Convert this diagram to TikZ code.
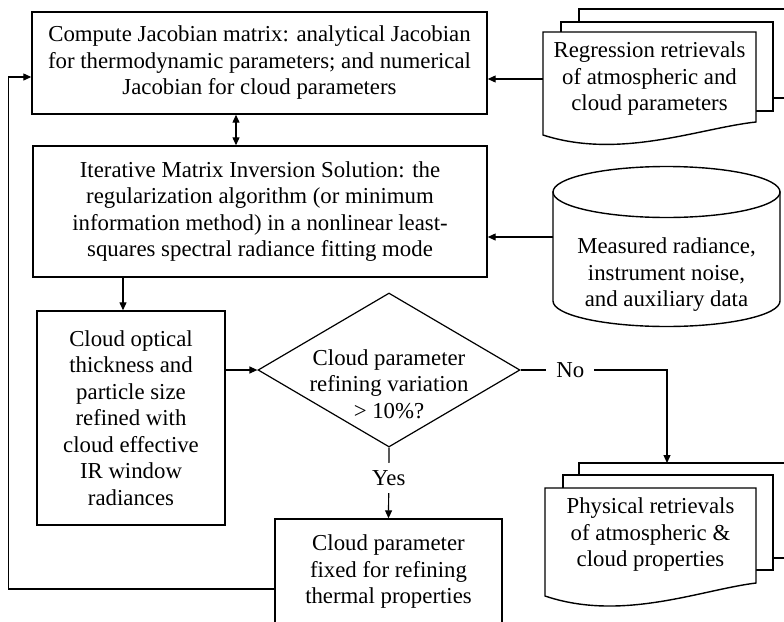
\documentclass[tikz,border=0pt]{standalone}
\usepackage{fontspec}
\setmainfont{Liberation Serif}
\usetikzlibrary{arrows.meta,shapes.geometric}
\begin{document}
\begin{tikzpicture}[x=1pt,y=-1pt,
  every node/.style={font=\fontsize{22.8}{26.5}\selectfont, align=center},
  boxn/.style={draw, line width=1.4pt, inner sep=0pt},
  pg/.style={draw, fill=white, line width=1.4pt},
  arr/.style={-{Triangle[length=8pt,width=7pt]}, line width=1.2pt},
  dbl/.style={{Triangle[length=8pt,width=7pt]}-{Triangle[length=8pt,width=7pt]}, line width=1.2pt},
  lab/.style={fill=white, inner xsep=10pt, inner ysep=7pt}]
\useasboundingbox (0,0) rectangle (784,621);
\clip (0,0) rectangle (784,621);
\fill[white] (0,0) rectangle (784,621);

% boxes
\node[boxn, minimum width=455pt, minimum height=102pt] (top) at (259.5,63)
  {Compute Jacobian matrix: analytical Jacobian\\for thermodynamic parameters; and numerical\\Jacobian for cloud parameters};
\node[boxn, minimum width=454pt, minimum height=131pt] (inv) at (260,211.5)
  {Iterative Matrix Inversion Solution: the\\regularization algorithm (or minimum\\information method) in a nonlinear least-\\squares spectral radiance fitting mode};
\node[boxn, minimum width=188pt, minimum height=214pt] (cot) at (131,418)
  {Cloud optical\\thickness and\\particle size\\refined with\\cloud effective\\IR window\\radiances};
\node[diamond, draw, line width=1.2pt, minimum width=262pt, minimum height=154pt, inner sep=0pt] (dec) at (389,370) {};
\node (dectxt) at (389,384) {Cloud parameter\\refining variation\\> 10\%?};
\node[boxn, minimum width=227pt, minimum height=106pt] (fixed) at (388.5,572)
  {Cloud parameter\\fixed for refining\\thermal properties};

% regression documents
\draw[pg] (579,9) rectangle (820,98);
\draw[pg] (561,22) rectangle (773,111);
\draw[pg] (543,32) -- (756,32) -- (756,122) .. controls (700,128) and (620,160) .. (543,135) -- cycle;
\node[minimum width=213pt, inner sep=0pt] (regr) at (649.5,79)
  {Regression retrievals\\of atmospheric and\\cloud parameters};

% measured data cylinder
\draw[pg] (553,192) -- (553,301) arc[start angle=180, end angle=360, x radius=113.5pt, y radius=25.5pt] -- (780,192) -- cycle;
\draw[pg] (666.5,192) ellipse [x radius=113.5pt, y radius=25.5pt];
\node (meas) at (666.5,275) {Measured radiance,\\instrument noise,\\and auxiliary data};
\coordinate (measW) at (553,237);

% physical documents
\draw[pg] (579,463) rectangle (820,558);
\draw[pg] (563,475) rectangle (773,570);
\draw[pg] (545,488) -- (756,488) -- (756,583) .. controls (700,590) and (622,622) .. (545,596) -- cycle;
\node (phys) at (650.5,535) {Physical retrievals\\of atmospheric \&\\cloud properties};
\coordinate (physTop) at (667,463);
\coordinate (nocorner) at (667,370);

% connectors
\draw[dbl] ([xshift=-23.5pt]top.south) -- ([xshift=-24pt]inv.north);
\draw[arr] (regr.west) -- (regr.west -| top.east);
\draw[arr] (measW) -- (measW -| inv.east);
\draw[arr] ([xshift=-137pt]inv.south) -- ([xshift=-137pt]inv.south |- cot.north);
\draw[arr] (dec.west -| cot.east) -- (dec.west);
\draw[arr] (dec.east) -- node[lab, pos=0.34]{No} (nocorner) -- (physTop);
\draw[arr] (dec.south) -- node[lab, pos=0.43]{Yes} (fixed.north);
\draw[arr] ([yshift=-17pt]fixed.west) -- ++(-266,0) |- ([yshift=-14pt]top.west);
\end{tikzpicture}
\end{document}
